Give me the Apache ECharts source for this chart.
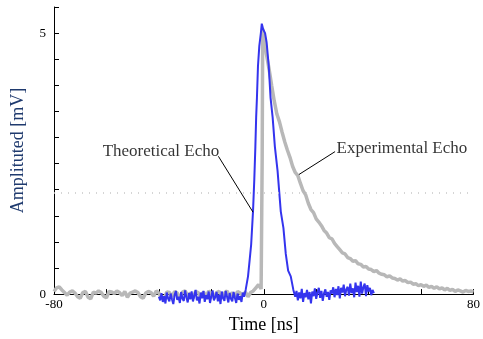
<!DOCTYPE html>
<html>
<head>
<meta charset="utf-8">
<script src="https://cdn.jsdelivr.net/npm/echarts@6/dist/echarts.min.js"></script>
<style>html,body{margin:0;padding:0;background:#fff;}#c{width:483px;height:339px;}</style>
</head>
<body>
<div id="c"></div>
<script>
// ---- Theoretical echo (blue) ----
const blueTime = [
-40,-39.5,-39,-38.5,-38,-37.5,-37,-36.5,-36,-35.5,-35,-34.5,-34,-33.5,-33,-32.5,-32,-31.5,-31,-30.5,
-30,-29.5,-29,-28.5,-28,-27.5,-27,-26.5,-26,-25.5,-25,-24.5,-24,-23.5,-23,-22.5,-22,-21.5,-21,-20.5,
-20,-19.5,-19,-18.5,-18,-17.5,-17,-16.5,-16,-15.5,-15,-14.5,-14,-13.5,-13,-12.5,-12,-11.5,-11,-10.5,
-10,-9.5,-9,-8.5,-8,-7.5,
-6.9,-6.0,-5.4,-4.8,-4.1,-3.6,-3.2,-2.9,-2.6,-2.2,-1.7,-1.1,-0.75,-0.2,0.5,1.1,1.9,2.6,3.4,4.25,5.27,6.5,7.5,8.4,9.3,10.3,11.3,
12,12.5,13,13.5,14,14.5,15,15.5,16,16.5,17,17.5,18,18.5,19,19.5,20,20.5,21,21.5,
22,22.5,23,23.5,24,24.5,25,25.5,26,26.5,27,27.5,28,28.5,29,29.5,30,30.5,31,31.5,
32,32.5,33,33.5,34,34.5,35,35.5,36,36.5,37,37.5,38,38.5,39,39.5,40,40.5,41,41.5,42
];
const blueAmp = [
-0.05,-0.12,0.02,-0.15,-0.04,-0.18,0.03,-0.08,-0.14,0.01,-0.1,-0.19,-0.02,0.06,-0.11,-0.05,-0.17,0.04,-0.09,-0.13,
0.07,-0.06,-0.16,0.02,-0.1,0.05,-0.14,-0.03,0.08,-0.12,-0.05,-0.18,0.03,-0.08,0.06,-0.15,-0.02,-0.1,0.05,-0.17,
-0.04,0.07,-0.12,-0.06,0.04,-0.14,-0.01,-0.19,0.05,-0.08,-0.13,0.06,-0.05,-0.16,0.02,-0.09,-0.14,0.04,-0.07,-0.17,
0.01,-0.11,-0.04,-0.15,0.03,-0.05,
0.08,0.34,0.64,0.95,1.58,2.2,2.82,3.38,3.76,4.37,4.75,5.0,5.18,5.07,5.0,4.82,4.37,3.76,3.38,2.82,2.36,1.58,1.27,0.77,0.45,0.34,0.08,
-0.05,0.06,-0.12,0.03,-0.08,0.1,-0.15,0.02,-0.06,0.08,-0.1,0.04,-0.18,0.05,-0.04,0.11,-0.09,0.03,0.12,-0.07,
0.06,-0.13,0.02,0.09,-0.05,0.04,-0.11,0.07,0.01,0.13,-0.06,0.1,-0.02,0.15,-0.08,0.12,0.03,0.18,-0.04,0.09,
0.14,-0.03,0.2,0.02,0.11,-0.06,0.22,0.04,0.16,-0.05,0.24,0.01,0.13,0.2,-0.04,0.17,0.05,0.12,-0.02,0.08,0.02
];
// ---- Experimental echo (grey) ----
const greyTime = [
-80,-79,-78,-77,-76,-75,-74,-73,-72,-71,-70,-69,-68,-67,-66,-65,-64,-63,-62,-61,
-60,-59,-58,-57,-56,-55,-54,-53,-52,-51,-50,-49,-48,-47,-46,-45,-44,-43,-42,-41,
-40,-39,-38,-37,-36,-35,-34,-33,-32,-31,-30,-29,-28,-27,-26,-25,-24,-23,-22,-21,
-20,-19,-18,-17,-16,-15,-14,-13,-12,-11,-10,-9,-8,-7,-6,-5,-4,-3,-2,-1,
-0.6,-0.4,0.5,1,2,3,4,5,6,7,8,9,10,11,12,13,14,15,16,17,18,19,20,
21,22,23,24,25,26,27,28,29,30,31,32,33,34,35,36,37,38,39,40,
41,42,43,44,45,46,47,48,49,50,51,52,53,54,55,56,57,58,59,60,
61,62,63,64,65,66,67,68,69,70,71,72,73,74,75,76,77,78,79,80
];
const greyAmp = [
0.05,0.12,0.14,0.08,0.03,-0.02,0.04,0.06,0.02,-0.05,-0.08,0.03,0.05,-0.06,-0.09,0.04,0.02,0.06,0.03,-0.04,
-0.07,0.05,0.04,0.01,0.06,0.03,-0.03,0.05,-0.06,0.02,0.04,0.06,0.03,-0.05,-0.08,0.02,0.05,0.03,-0.04,0.06,
0.02,-0.06,-0.09,0.04,0.03,-0.05,0.05,0.02,-0.07,0.04,0.06,-0.03,0.02,-0.08,0.05,0.03,-0.06,0.04,-0.04,0.06,
0.01,-0.07,0.03,0.05,-0.05,0.02,0.06,-0.04,0.03,-0.06,0.05,0.02,-0.03,0.04,-0.05,0.03,0.06,0.12,0.18,0.1,
2.6,5.08,4.85,4.6,4.32,4.0,3.7,3.45,3.3,3.1,2.92,2.76,2.62,2.45,2.33,2.27,2.12,1.98,1.9,1.74,1.62,1.56,1.44,
1.38,1.31,1.22,1.17,1.08,1.06,0.97,0.91,0.85,0.79,0.77,0.7,0.68,0.63,0.64,0.58,0.57,0.52,0.53,0.48,
0.47,0.43,0.45,0.4,0.38,0.37,0.33,0.35,0.31,0.3,0.27,0.29,0.25,0.26,0.22,0.23,0.19,0.2,0.16,0.18,
0.15,0.17,0.13,0.15,0.11,0.14,0.1,0.12,0.08,0.11,0.07,0.09,0.05,0.08,0.06,0.04,0.07,0.05,0.06,0.04
];
// ---- Axes / annotations ----
const xTickLabels = [-80, 0, 80];
const yTickLabels = [0, 5];
const refLevel = 1.95;
const annotations = [
  {name: 'Theoretical Echo', text: [-39.2, 2.73], from: [-17.3, 2.64], to: [-4.1, 1.57]},
  {name: 'Experimental Echo', text: [52.7, 2.79], from: [27.2, 2.73], to: [13.4, 2.29]}
];

const zip = (a, b) => a.map((t, i) => [t, b[i]]);
const serif = 'Liberation Serif';
const chart = echarts.init(document.getElementById('c'));
chart.setOption({
  animation: false,
  backgroundColor: '#fff',
  grid: {left: 54, right: 4, top: 7, bottom: 38},
  xAxis: {
    type: 'value', min: -80, max: 80, interval: 20,
    name: 'Time [ns]', nameLocation: 'middle', nameGap: 21,
    nameTextStyle: {fontFamily: serif, fontSize: 18, color: '#000'},
    axisLine: {onZero: false, lineStyle: {color: '#000', width: 1}},
    axisTick: {inside: true, length: 5, lineStyle: {color: '#000'}},
    axisLabel: {fontFamily: serif, fontSize: 13, color: '#000', margin: 4,
      formatter: v => xTickLabels.some(t => Math.abs(t - v) < 1e-6) ? String(v) : ''},
    splitLine: {show: false}
  },
  yAxis: {
    type: 'value', min: 0, max: 5.5, interval: 0.5,
    name: 'Amplituted [mV]', nameLocation: 'middle', nameGap: 27,
    nameTextStyle: {fontFamily: serif, fontSize: 18, color: '#1f3a6e'},
    axisLine: {show: true, onZero: false, lineStyle: {color: '#000', width: 1}},
    axisTick: {show: true, inside: true, length: 5, lineStyle: {color: '#000'}},
    axisLabel: {fontFamily: serif, fontSize: 13, color: '#000', margin: 8,
      formatter: v => yTickLabels.some(t => Math.abs(t - v) < 1e-6) ? String(Math.round(v)) : ''},
    splitLine: {show: false}
  },
  series: [
    {
      type: 'line', name: 'Experimental Echo', data: zip(greyTime, greyAmp),
      showSymbol: false, clip: false, z: 2,
      lineStyle: {color: '#b8b8b8', width: 3.5},
      markLine: {
        silent: true, symbol: 'none', label: {show: false},
        lineStyle: {color: '#c8c8c8', type: [1, 6], width: 1.5},
        data: [{yAxis: refLevel}]
      }
    },
    {
      type: 'line', name: 'Theoretical Echo', data: zip(blueTime, blueAmp),
      showSymbol: false, clip: false, z: 3,
      lineStyle: {color: '#3434ee', width: 2},
      markLine: {
        silent: true, symbol: 'none', label: {show: false},
        lineStyle: {color: '#000', type: 'solid', width: 1},
        data: annotations.map(a => [{coord: a.from}, {coord: a.to}])
      }
    },
    {
      type: 'scatter', symbolSize: 0, silent: true, z: 4,
      data: annotations.map(a => ({name: a.name, value: a.text})),
      label: {show: true, position: 'inside', formatter: p => p.name,
        fontFamily: serif, fontSize: 17, color: '#000', textBorderWidth: 0, textShadowBlur: 0}
    }
  ]
});
</script>
</body>
</html>
